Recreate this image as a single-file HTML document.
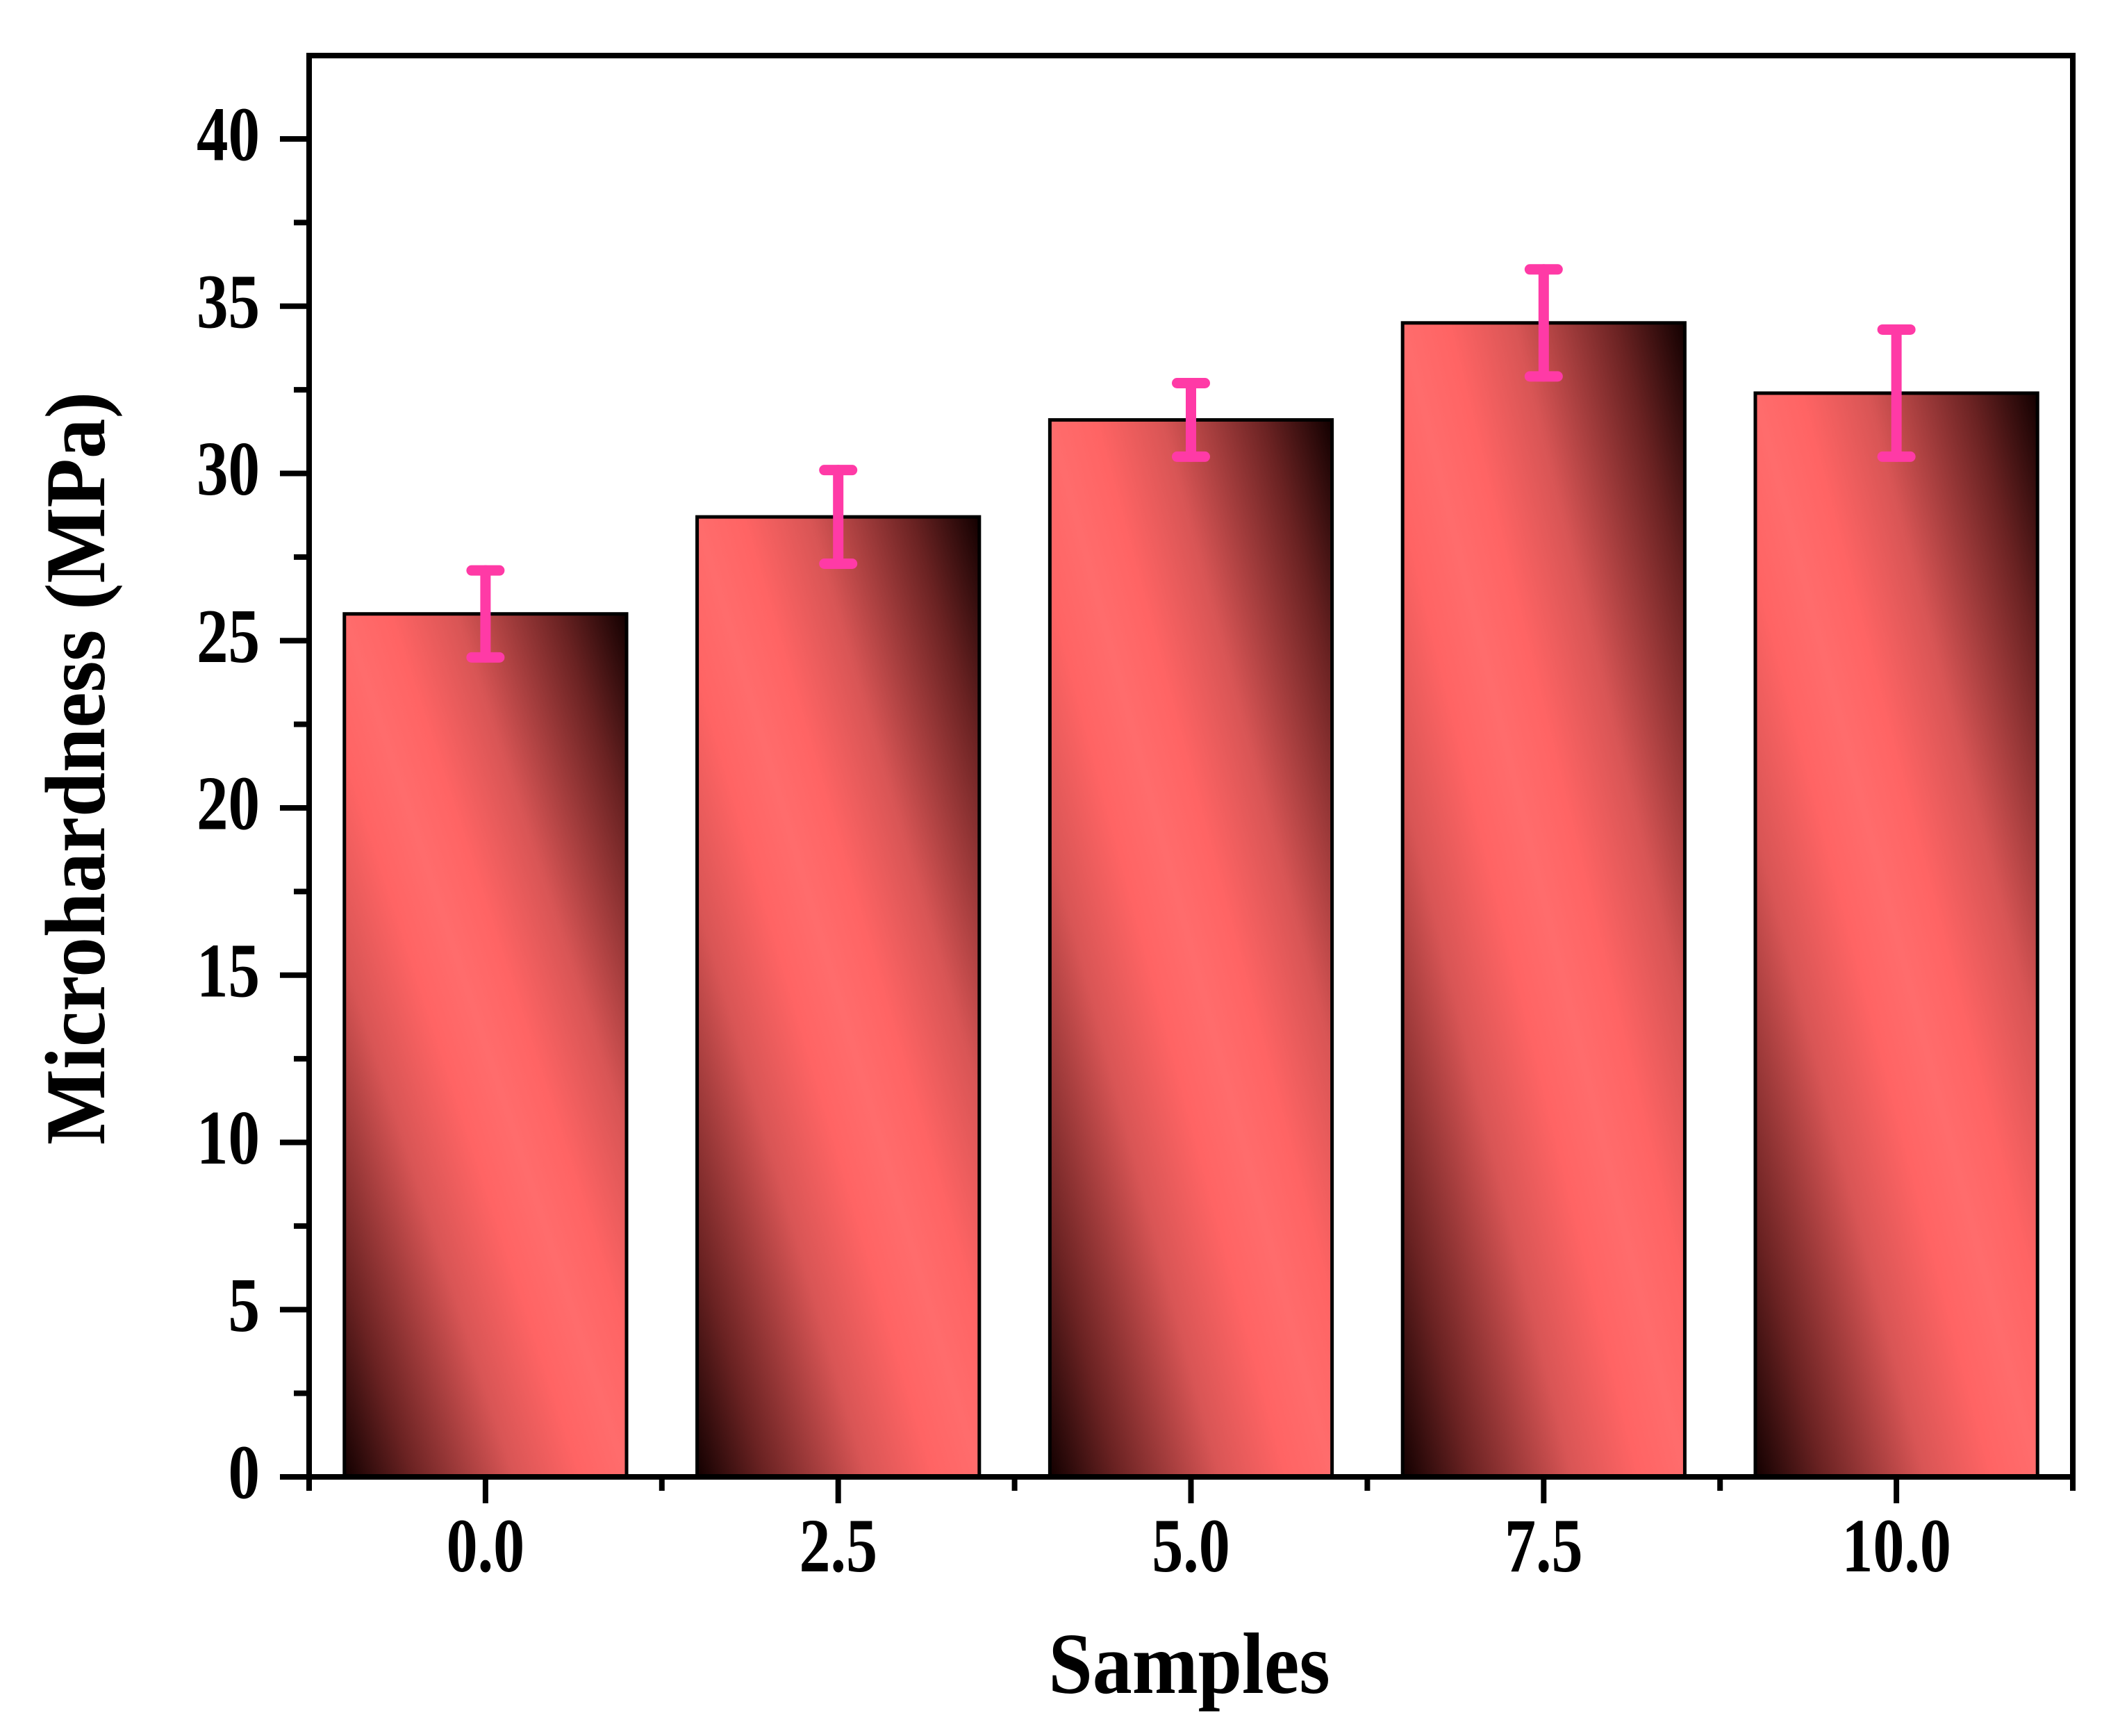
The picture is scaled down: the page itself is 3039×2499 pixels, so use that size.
<!DOCTYPE html>
<html><head><meta charset="utf-8"><style>
html,body{margin:0;padding:0;background:#fff;}
svg{display:block;font-family:"Liberation Serif",serif;font-weight:bold;}
</style></head><body>
<svg id="chart" width="3039" height="2499" viewBox="0 0 3039 2499" xmlns="http://www.w3.org/2000/svg">
<defs>
<linearGradient id="barGrad" x1="0" y1="1" x2="1" y2="0">
<stop offset="0" stop-color="#120000"/>
<stop offset="0.12" stop-color="#6a2222"/>
<stop offset="0.3" stop-color="#d85555"/>
<stop offset="0.42" stop-color="#ff6464"/>
<stop offset="0.5" stop-color="#ff6c6c"/>
<stop offset="0.58" stop-color="#ff6464"/>
<stop offset="0.7" stop-color="#d85555"/>
<stop offset="0.88" stop-color="#6a2222"/>
<stop offset="1" stop-color="#120000"/>
</linearGradient>
</defs>
<g id="bars"></g>
<g id="errs"></g>
<g id="axes"></g>
<text transform="translate(150,1106) rotate(-90) scale(1,1.1)" text-anchor="middle" font-size="112" textLength="1084" lengthAdjust="spacingAndGlyphs">Microhardness (MPa)</text>
<text transform="translate(1712,2437) scale(1,1.1)" text-anchor="middle" font-size="114">Samples</text>
</svg>
<script>
const categories = ["0.0","2.5","5.0","7.5","10.0"];
const values = [25.8, 28.7, 31.6, 34.5, 32.4];
const errors = [1.3, 1.4, 1.1, 1.6, 1.9];
const yTicks = [0,5,10,15,20,25,30,35,40];

const NS="http://www.w3.org/2000/svg";
const L=445,R=2984,T=80,B=2126,yMin=0;
const bandW=(R-L)/categories.length;
function xS(i){return L+bandW*(i+0.5);}
function yS(v){return B-(v-yMin)/(40-yMin)*(B-200);}
function mk(tag,attrs,parent){const e=document.createElementNS(NS,tag);for(const k in attrs)e.setAttribute(k,attrs[k]);parent.appendChild(e);return e;}
const bars=document.getElementById('bars'),errs=document.getElementById('errs'),axes=document.getElementById('axes');
const bw=bandW*0.8;
categories.forEach((c,i)=>{
  const r=mk('rect',{x:xS(i)-bw/2,y:yS(values[i]),width:bw,height:B-yS(values[i]),fill:'url(#barGrad)',stroke:'#000','stroke-width':5},bars);
  
  
  const g=mk('g',{stroke:'#ff3aa6','stroke-linecap':'round'},errs);
  
  
  const x=xS(i),yt=yS(values[i]+errors[i]),yb=yS(values[i]-errors[i]);
  mk('line',{x1:x,x2:x,y1:yt,y2:yb,'stroke-width':15},g);
  mk('line',{x1:x-20,x2:x+20,y1:yt,y2:yt,'stroke-width':15},g);
  mk('line',{x1:x-20,x2:x+20,y1:yb,y2:yb,'stroke-width':15},g);
  const t=mk('text',{transform:'translate('+x+',2262) scale(1,1.22)','text-anchor':'middle','font-size':90},axes);
  t.textContent=c;
  
  
  mk('line',{x1:x,x2:x,y1:B,y2:B+38,stroke:'#000','stroke-width':8},axes);
});
for(let i=0;i<=categories.length;i++){const x=L+bandW*i;mk('line',{x1:x,x2:x,y1:B,y2:B+20,stroke:'#000','stroke-width':8},axes);}
yTicks.forEach(v=>{
  const y=yS(v);
  mk('line',{x1:L-42,x2:L,y1:y,y2:y,stroke:'#000','stroke-width':8},axes);
  if(v<40){const ym=yS(v+2.5);mk('line',{x1:L-22,x2:L,y1:ym,y2:ym,stroke:'#000','stroke-width':8},axes);}
  const t=mk('text',{transform:'translate(374,'+y+') scale(1,1.22)',y:25,'text-anchor':'end','font-size':91},axes);
  t.textContent=v;
  
  
});
const fr=mk('rect',{x:L,y:T,width:R-L,height:B-T,fill:'none',stroke:'#000','stroke-width':8},axes);


</script>
</body></html>
